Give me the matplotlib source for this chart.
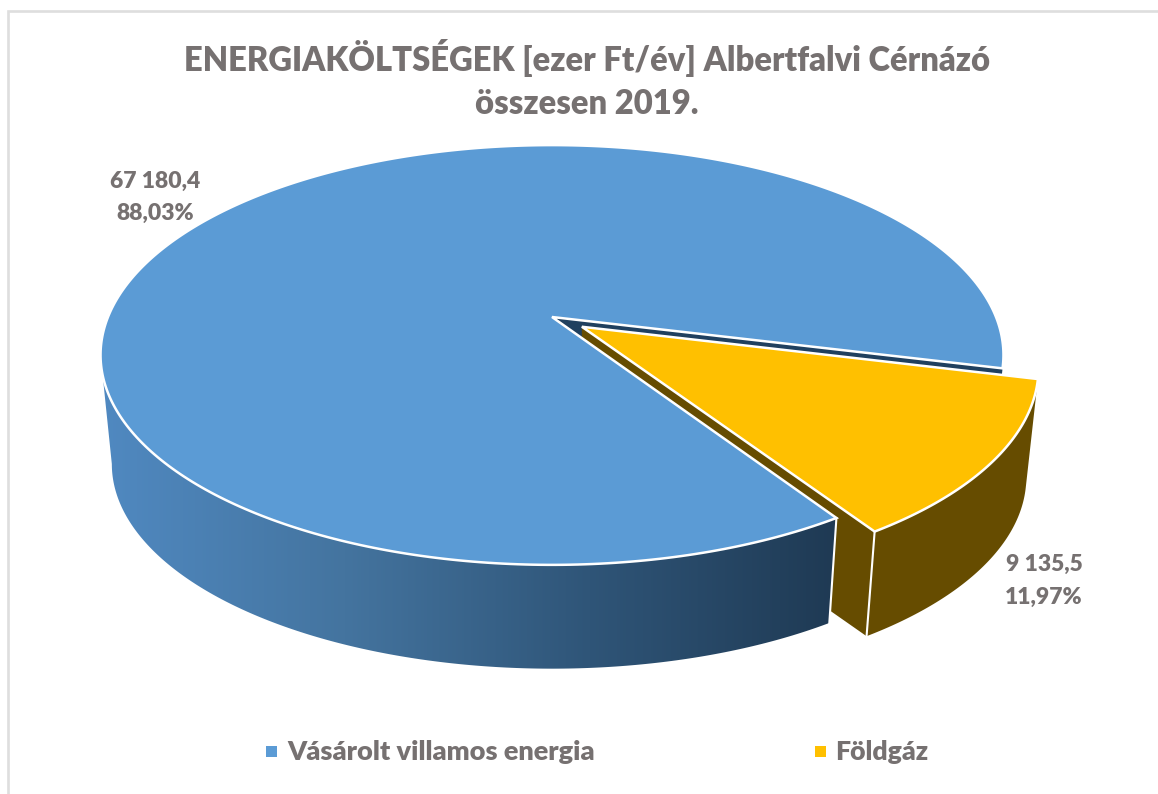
import numpy as np
import matplotlib
matplotlib.use('Agg')
import matplotlib.pyplot as plt
from matplotlib.colors import LinearSegmentedColormap
from matplotlib.patches import Polygon, Rectangle

plt.rcParams['font.family'] = ['Lato', 'DejaVu Sans']

title_lines = ['ENERGIAKÖLTSÉGEK [ezer Ft/év] Albertfalvi Cérnázó', 'összesen 2019.']
categories = ['Vásárolt villamos energia', 'Földgáz']
values = [67180.4, 9135.5]
value_labels = ['67 180,4', '9 135,5']
percent_labels = ['88,03%', '11,97%']

GREY = '#767171'
BLUE = '#5B9BD5'
GOLD = '#FFC000'
BROWN = '#664C00'
NAVY = '#20405F'

# pie geometry, in image pixels
cx, cy = 552, 317
rx, ry = 444, 203
persp = 0.181
depth = 110
floor_scale = 0.975
start = -14
explode = 0.082


def place(u, v, floor=False):
    d = 1 + persp * v
    x = rx * u / d
    y = -ry * v / d
    if floor:
        return np.column_stack([cx + x * floor_scale, cy + depth + y * floor_scale])
    return np.column_stack([cx + x, cy + y])


def project(ang, off=(0, 0), floor=False):
    a = np.radians(ang)
    return place(np.cos(a) + off[0], np.sin(a) + off[1], floor)


fig = plt.figure(figsize=(11.58, 7.94), dpi=100)
ax = fig.add_axes([0, 0, 1, 1])

# the frame only shows on the top and left
ax.plot([8, 8, 1158], [794, 10.5, 10.5], color='#DEDEDE', lw=1.9, solid_joinstyle='miter')

sweep = 360 * values[0] / sum(values)
blue_end = start + sweep
gold_start = blue_end - 360
mid = np.radians((gold_start + start) / 2)
off = (explode * np.cos(mid), explode * np.sin(mid))

blue_arc = np.linspace(start, blue_end, 400)
gold_arc = np.linspace(gold_start, start, 80)

# cut face of the blue slice, seen through the gap
p0 = place(0, 0)
p1 = project(start)
p2 = project(start, floor=True)
p3 = place(0, 0, floor=True)
ax.add_patch(Polygon(np.vstack([p0, p1, p2, p3]), fc=NAVY, ec='none', zorder=2))

# cut face of the gold slice
g0 = place(off[0], off[1])
g1 = project(gold_start, off)
g2 = project(gold_start, off, floor=True)
g3 = place(off[0], off[1], floor=True)
ax.add_patch(Polygon(np.vstack([g0, g1, g2, g3]), fc=BROWN, ec='none', zorder=3))

# blue outer wall with the dark gradient
wall_arc = np.linspace(190.4, blue_end, 200)
wall = np.vstack([project(wall_arc), project(wall_arc[::-1], floor=True)])
clip = Polygon(wall, transform=ax.transData, fc='none', ec='none')
ax.add_patch(clip)
cmap = LinearSegmentedColormap.from_list('side', ['#5089C1', '#44749F', '#2F5578', '#1F3A54'])
im = ax.imshow(np.linspace(0, 1, 256).reshape(1, -1), extent=[100, 835, 670, 350],
               cmap=cmap, aspect='auto', zorder=4)
im.set_clip_path(clip)
ax.plot(*np.vstack([project(blue_end), project(blue_end, floor=True)]).T, color='white', lw=1.5, zorder=6)

# blue top
top = np.vstack([p0, project(blue_arc), p0])
ax.add_patch(Polygon(top, fc=BLUE, ec='white', lw=1.8, joinstyle='miter', zorder=5))

# gold outer wall and top
gwall = np.vstack([project(gold_arc, off), project(gold_arc[::-1], off, floor=True)])
ax.add_patch(Polygon(gwall, fc=BROWN, ec='none', zorder=6))
ax.plot(*np.vstack([project(gold_start, off), project(gold_start, off, floor=True)]).T,
        color='white', lw=1.5, zorder=7)
gtop = np.vstack([g0, project(gold_arc, off), g0])
ax.add_patch(Polygon(gtop, fc=GOLD, ec='white', lw=1.8, joinstyle='miter', zorder=8))

# title
ax.text(587, 58, title_lines[0], color=GREY, fontsize=23.6, fontweight='heavy', ha='center', va='center')
ax.text(587, 104, title_lines[1], color=GREY, fontsize=23.6, fontweight='heavy', ha='center', va='center')

# data labels
ax.text(155, 181, value_labels[0], color=GREY, fontsize=16.5, fontweight='heavy', ha='center', va='center')
ax.text(155, 213, percent_labels[0], color=GREY, fontsize=16.5, fontweight='heavy', ha='center', va='center')
ax.text(1044, 564, value_labels[1], color=GREY, fontsize=16.5, fontweight='heavy', ha='center', va='center')
ax.text(1044, 597, percent_labels[1], color=GREY, fontsize=16.5, fontweight='heavy', ha='center', va='center')

# legend
ax.add_patch(Rectangle((266, 746), 11, 11, fc=BLUE, ec='none'))
ax.text(287, 752, categories[0], color=GREY, fontsize=19.5, fontweight='heavy', ha='left', va='center')
ax.add_patch(Rectangle((815, 746), 11, 11, fc=GOLD, ec='none'))
ax.text(835, 752, categories[1], color=GREY, fontsize=19.2, fontweight='heavy', ha='left', va='center')

ax.set_xlim(0, 1158)
ax.set_ylim(794, 0)
ax.axis('off')
fig.savefig('out.png', dpi=100, facecolor='white')
